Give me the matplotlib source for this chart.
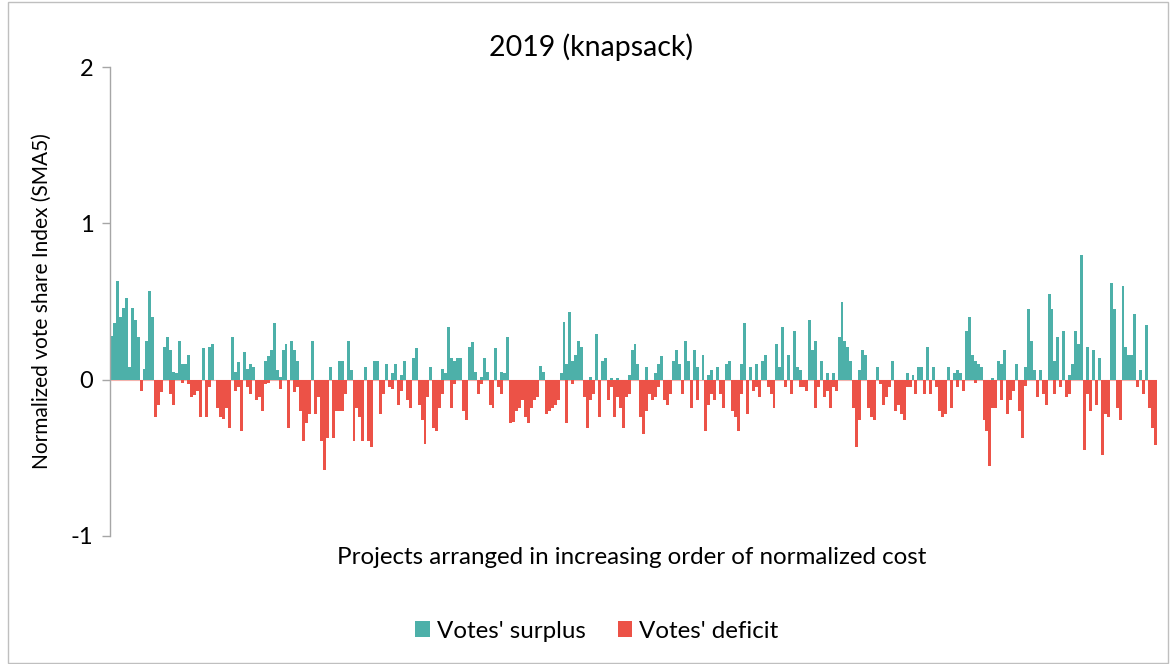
import numpy as np
import matplotlib
matplotlib.use("Agg")
import matplotlib.pyplot as plt
from matplotlib.patches import Rectangle

plt.rcParams['font.family'] = ['Lato', 'DejaVu Sans']

title = "2019 (knapsack)"
y_label = "Normalized vote share Index (SMA5)"
x_label = "Projects arranged in increasing order of normalized cost"
y_ticks = [-1, 0, 1, 2]
y_tick_labels = ["-1", "0", "1", "2"]
legend_labels = ["Votes' surplus", "Votes' deficit"]

# SMA5 of the normalized vote share index, projects ordered by normalized cost
surplus_a = [0.28, 0.36, 0.63, 0.40, 0.46, 0.52, 0.08, 0.46, 0.38, 0.27,
             0, 0.07, 0.25, 0.57, 0.40, 0, 0, 0, 0.21, 0.27,
             0.19, 0.05, 0.04, 0.25, 0.10, 0.10, 0.16, 0, 0, 0,
             0, 0.20, 0, 0.21, 0.23, 0, 0, 0]
deficit_a = [0, 0, 0, 0, 0, 0, 0, 0, 0, 0,
             -0.07, 0, 0, 0, 0, -0.24, -0.16, -0.08, 0, 0,
             -0.09, -0.16, 0, 0, -0.02, 0, -0.03, -0.11, -0.10, -0.07,
             -0.24, 0, -0.24, -0.05, 0, 0, -0.18, -0.24]

surplus_b = [0, 0, 0, 0.27, 0.05, 0.11, 0, 0.18, 0.07, 0.10,
             0.08, 0, 0, 0, 0.12, 0.15, 0.19, 0.36, 0.06, 0.02,
             0.19, 0.23, 0, 0.25, 0.19, 0.12, 0, 0, 0, 0,
             0.25, 0, 0, 0, 0, 0, 0.08, 0, 0, 0.12]
deficit_b = [-0.25, -0.18, -0.31, 0, -0.07, -0.05, -0.33, 0, -0.05, -0.09,
             0, -0.13, -0.11, -0.20, -0.03, -0.02, 0, 0, 0, -0.06,
             0, 0, -0.31, 0, -0.08, -0.05, -0.20, -0.39, -0.28, -0.22,
             0, -0.22, -0.11, -0.39, -0.58, -0.37, 0, -0.37, -0.20, -0.20]

surplus_c = [0.12, 0, 0.25, 0.06, 0, 0, 0, 0, 0.08, 0,
             0, 0.12, 0.12, 0, 0, 0.10, 0, 0.04, 0.10, 0,
             0.03, 0.12, 0, 0, 0.14, 0.20, 0, 0, 0, 0,
             0.08, 0, 0, 0, 0.07, 0.04, 0.34, 0.14, 0.12, 0.14]
deficit_c = [-0.20, -0.09, 0, 0, -0.39, -0.18, -0.24, -0.39, 0, -0.39,
             -0.43, 0, 0, -0.22, -0.09, 0, -0.05, -0.06, 0, -0.16,
             -0.07, 0, -0.13, -0.18, 0, 0, -0.16, -0.26, -0.41, -0.11,
             0, -0.31, -0.33, -0.18, -0.09, 0, 0, -0.18, -0.03, 0]

surplus_d = [0.14, 0, 0, 0.21, 0.24, 0.05, 0, 0.02, 0.14, 0.05,
             0, 0, 0.20, 0, 0.05, 0.04, 0.27, 0, 0, 0,
             0, 0, 0, 0, 0, 0, 0, 0.09, 0.05, 0,
             0, 0, 0, 0, 0.04, 0.37, 0.10, 0.43, 0.12, 0.16]
deficit_d = [0, -0.20, -0.26, 0, 0, 0, -0.09, -0.03, 0, 0,
             -0.16, -0.18, 0, -0.05, -0.09, 0, 0, -0.28, -0.27, -0.20,
             -0.18, -0.13, -0.24, -0.28, -0.18, -0.13, -0.11, 0, 0, -0.22,
             -0.20, -0.18, -0.16, -0.13, 0, 0, -0.28, 0, -0.03, 0]

surplus_e = [0.25, 0.21, 0, 0, 0.02, 0, 0.29, 0, 0.12, 0.14,
             0, 0.01, 0, 0.01, 0, 0, 0, 0.03, 0.19, 0.23,
             0.10, 0, 0, 0.08, 0, 0, 0.04, 0.10, 0.15, 0,
             0, 0, 0.12, 0.19, 0.10, 0, 0.25, 0.12, 0, 0.19]
deficit_e = [0, 0, -0.11, -0.31, -0.13, -0.09, 0, -0.24, 0, 0,
             -0.13, -0.05, -0.24, -0.11, -0.18, -0.31, -0.11, -0.09, 0, 0,
             0, -0.24, -0.35, -0.20, -0.09, -0.13, -0.11, -0.05, 0, -0.13,
             -0.16, -0.09, 0, 0, 0, -0.09, 0, 0, -0.18, 0]

surplus_f = [0.08, 0, 0.16, 0, 0.03, 0.06, 0, 0.08, 0, 0,
             0.10, 0.12, 0, 0, 0, 0.10, 0.36, 0, 0.08, 0,
             0.10, 0, 0.12, 0.16, 0, 0, 0, 0.23, 0.08, 0.34,
             0, 0.16, 0, 0.31, 0.08, 0.06, 0, 0, 0.38, 0.19]
deficit_f = [-0.13, 0, 0, -0.33, -0.16, -0.09, -0.13, 0, -0.09, -0.18,
             0, 0, -0.20, -0.24, -0.33, -0.09, 0, -0.22, 0, -0.07,
             -0.05, -0.11, 0, 0, -0.05, -0.09, -0.18, 0, 0, 0,
             -0.05, 0, -0.09, 0, 0, -0.05, -0.05, -0.07, 0, 0]

surplus_g = [0.25, 0, 0.12, 0, 0.04, 0, 0.04, 0, 0.27, 0.50,
             0.25, 0.21, 0.12, 0, 0, 0.06, 0.19, 0.16, 0, 0,
             0, 0.08, 0, 0, 0, 0, 0.12, 0, 0, 0,
             0, 0.04, 0, 0.03, 0, 0.08, 0.08, 0, 0.21, 0]
deficit_g = [-0.18, -0.05, 0, -0.11, -0.07, -0.18, -0.05, -0.07, 0, 0,
             0, 0, 0, -0.18, -0.43, -0.26, 0, 0, -0.18, -0.24,
             -0.26, 0, -0.03, -0.16, -0.11, -0.05, 0, -0.20, -0.16, -0.22,
             -0.26, -0.05, -0.05, 0, -0.09, 0, 0, -0.09, 0, -0.09]

surplus_h = [0.08, 0, 0, 0, 0, 0.08, 0, 0.04, 0.06, 0.04,
             0, 0.31, 0.40, 0.16, 0.12, 0.10, 0.08, 0, 0, 0,
             0.01, 0, 0.12, 0.10, 0.19, 0, 0, 0, 0.10, 0,
             0, 0.08, 0.45, 0.25, 0.06, 0, 0.06, 0, 0, 0.55]
deficit_h = [0, -0.05, -0.20, -0.24, -0.22, 0, -0.18, 0, -0.05, 0,
             -0.07, 0, 0, 0, -0.02, 0, 0, -0.26, -0.33, -0.55,
             -0.18, -0.18, 0, -0.13, 0, -0.22, -0.13, -0.07, 0, -0.20,
             -0.37, -0.04, 0, 0, 0, -0.11, 0, -0.09, -0.16, 0]

surplus_i = [0.45, 0.12, 0.27, 0, 0.31, 0, 0.03, 0.10, 0.31, 0.23,
             0.80, 0, 0.21, 0, 0.19, 0, 0.14, 0, 0, 0,
             0.62, 0.45, 0, 0, 0.60, 0.21, 0.16, 0.16, 0.42, 0,
             0.06, 0, 0.35, 0, 0, 0]
deficit_i = [0, -0.09, 0, -0.05, 0, -0.11, -0.09, 0, 0, 0,
             0, -0.45, -0.09, -0.20, 0, -0.16, 0, -0.48, -0.22, -0.24,
             0, 0, -0.18, -0.26, 0, 0, 0, 0, 0, -0.05,
             0, -0.09, 0, -0.18, -0.31, -0.42]

surplus = np.array(surplus_a + surplus_b + surplus_c + surplus_d + surplus_e
                   + surplus_f + surplus_g + surplus_h + surplus_i)
deficit = np.array(deficit_a + deficit_b + deficit_c + deficit_d + deficit_e
                   + deficit_f + deficit_g + deficit_h + deficit_i)
projects = np.arange(len(surplus))

teal = "#4DB0A9"
red = "#EC5247"

W, H = 1171, 664
fig = plt.figure(figsize=(W / 100, H / 100), dpi=100)
ax = fig.add_axes([110 / W, 1 - 536 / H, 1047 / W, 469 / H])

ax.axhline(0, color="#F4B3AD", linewidth=0.8, zorder=1)
ax.bar(projects, surplus, width=1.0, color=teal, linewidth=0, zorder=2,
       label=legend_labels[0])
ax.bar(projects, deficit, width=1.0, color=red, linewidth=0, zorder=2,
       label=legend_labels[1])

ax.set_xlim(-0.5, len(projects) - 0.5)
ax.set_ylim(-1, 2)
ax.set_yticks(y_ticks)
ax.set_yticklabels(y_tick_labels, fontsize=17)
ax.set_xticks([])

for side in ("top", "right", "bottom"):
    ax.spines[side].set_visible(False)
ax.spines["left"].set_color("#A6A6A6")
ax.spines["left"].set_linewidth(1.0)
ax.tick_params(axis="y", length=6, width=1.0, color="#A6A6A6", pad=6)

fig.text(591 / W, 1 - 47 / H, title, fontsize=20.5, ha="center", va="center")
ax.set_ylabel(y_label, fontsize=15)
ax.yaxis.set_label_coords((42 - 110) / 1047, 0.5)
ax.yaxis.label.set_va("center")
ax.set_xlabel(x_label, fontsize=17.4)
ax.xaxis.set_label_coords(0.5 - 2 / 1047, (536 - 557) / 469)
ax.xaxis.label.set_va("center")

ax.legend(loc="center", bbox_to_anchor=((597 - 110) / 1047, (536 - 631) / 469),
          ncol=2, frameon=False, fontsize=17.4, handlelength=0.6,
          handleheight=0.6, handletextpad=0.3, columnspacing=1.3,
          borderaxespad=0)

# chart frame
fig.patches.append(Rectangle((8 / W, 1 / H), 1160 / W, 661 / H,
                             transform=fig.transFigure, fill=False,
                             edgecolor="#BFBFBF", linewidth=1.0))

fig.savefig("out.png", dpi=100)
